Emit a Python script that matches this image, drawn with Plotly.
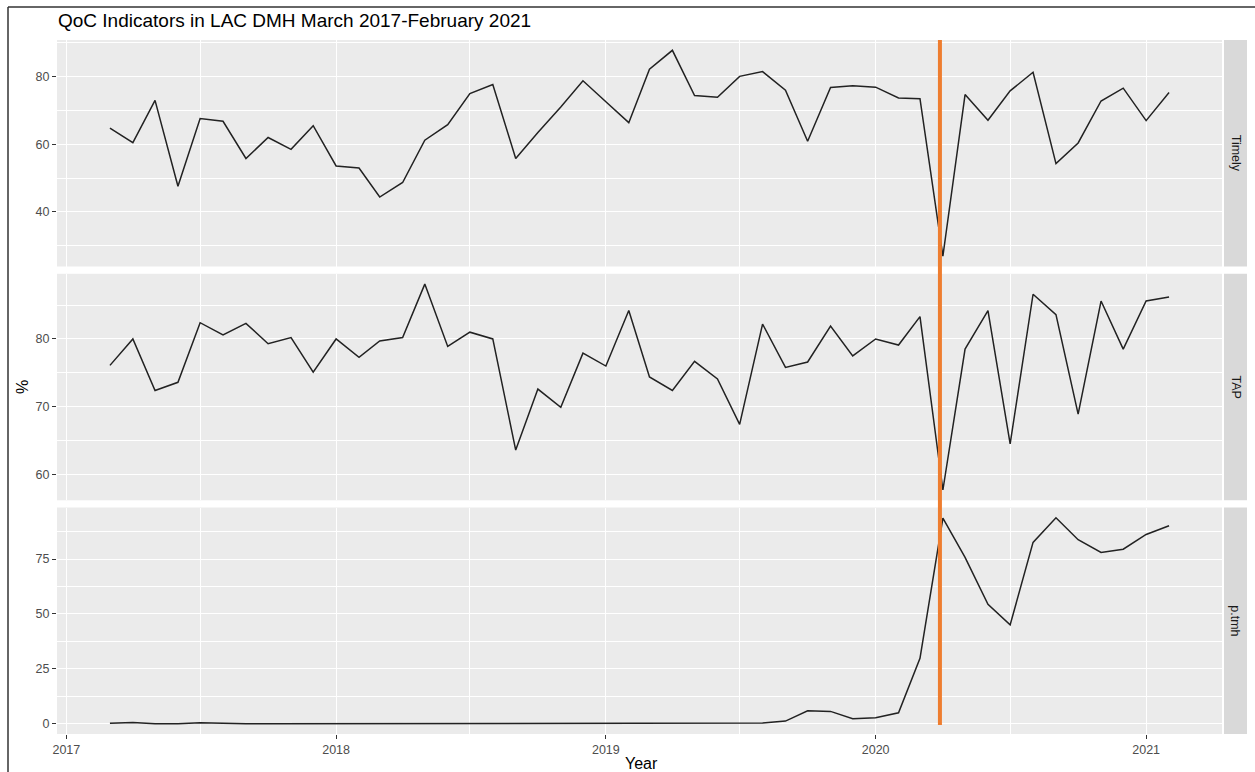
import pandas as pd
import plotly.graph_objects as go

# ---------------- data ----------------
months = pd.date_range("2017-03-01", "2021-02-01", freq="MS")

timely = [64.8, 60.5, 73.0, 47.6, 67.6, 66.8, 55.8, 62.0, 58.5, 65.5,
          53.6, 53.0, 44.4, 48.7, 61.2, 65.8, 75.0, 77.7, 55.8, 63.5, 71.0, 78.8,
          72.6, 66.4, 82.2, 87.8, 74.4, 73.9, 80.1, 81.5, 76.0, 60.9, 76.8, 77.3,
          76.9, 73.7, 73.5, 26.9, 74.7, 67.1, 75.8, 81.3, 54.3, 60.4, 72.8, 76.6,
          67.0, 75.3]

tap = [76.1, 80.0, 72.4, 73.6, 82.4, 80.6, 82.3, 79.3, 80.2, 75.1,
       80.0, 77.3, 79.7, 80.2, 88.1, 78.9, 81.0, 80.0, 63.6, 72.6, 69.9, 77.9,
       76.0, 84.2, 74.4, 72.4, 76.7, 74.1, 67.4, 82.2, 75.8, 76.6, 81.9, 77.5,
       80.0, 79.1, 83.3, 57.7, 78.5, 84.2, 64.5, 86.6, 83.6, 68.9, 85.6, 78.5,
       85.6, 86.2]

ptmh = [0.2, 0.6, 0.0, 0.0, 0.4, 0.1, 0.0, 0.0, 0.0, 0.0,
        0.0, 0.0, 0.0, 0.0, 0.0, 0.0, 0.0, 0.0, 0.0, 0.0, 0.0, 0.0,
        0.0, 0.0, 0.0, 0.0, 0.0, 0.0, 0.0, 0.3, 1.2, 5.9, 5.6, 2.3,
        2.7, 5.0, 29.8, 93.6, 75.8, 54.4, 45.0, 82.6, 93.8, 83.8, 78.0, 79.5,
        86.2, 90.2]

panel_names = ["Timely", "TAP", "p.tmh"]
series = [timely, tap, ptmh]
y_major = [20, 10, 25]
y_minor = [10, 5, 12.5]

event_date = "2020-03-28"
title_text = "QoC Indicators in LAC DMH March 2017-February 2021"
x_title = "Year"
y_title = "%"

# ---------------- layout helpers ----------------
W, H = 1255, 772
FONT = "Liberation Sans, Arial, Helvetica, sans-serif"


def fx(p):
    return p / W


def fy(p):
    return 1 - p / H


x_dom = [fx(57), fx(1222)]
panels_px = [(40, 266.5), (273.8, 500.3), (507.5, 734)]

t0, t1 = months[0], months[-1]
span = t1 - t0
x_range = [t0 - 0.05 * span, t1 + 0.05 * span]

fig = go.Figure()

shapes = []
annotations = []

for i, (name, vals) in enumerate(zip(panel_names, series)):
    k = "" if i == 0 else str(i + 1)
    fig.add_trace(go.Scatter(
        x=months, y=vals, mode="lines",
        line=dict(color="#222222", width=1.5),
        xaxis="x" + k, yaxis="y" + k, showlegend=False,
        hoverinfo="x+y",
    ))
    lo, hi = min(vals), max(vals)
    pad = 0.05 * (hi - lo)
    top, bot = panels_px[i]
    is_bottom = i == len(series) - 1
    fig.update_layout(**{
        "xaxis" + k: dict(
            domain=x_dom, range=x_range, type="date",
            anchor="y" + k, matches=None if i == 0 else "x",
            tick0="2017-01-01", dtick="M12", tickformat="%Y",
            showgrid=True, gridcolor="white", gridwidth=1.1,
            minor=dict(dtick="M6", tick0="2017-01-01", showgrid=True,
                       gridcolor="white", gridwidth=0.55),
            showticklabels=is_bottom,
            ticks="outside" if is_bottom else "", ticklen=4, tickwidth=1.1,
            tickcolor="#333333",
            tickfont=dict(family=FONT, size=12.5, color="#4D4D4D"),
            showline=False, zeroline=False, fixedrange=True,
        ),
        "yaxis" + k: dict(
            domain=[fy(bot), fy(top)], anchor="x" + k,
            range=[lo - pad, hi + pad],
            tick0=0, dtick=y_major[i],
            showgrid=True, gridcolor="white", gridwidth=1.1,
            minor=dict(tick0=0, dtick=y_minor[i], showgrid=True,
                       gridcolor="white", gridwidth=0.55),
            ticks="outside", ticklen=4, tickwidth=1.1, tickcolor="#333333",
            tickfont=dict(family=FONT, size=12.5, color="#4D4D4D"),
            showline=False, zeroline=False, fixedrange=True,
        ),
    })
    # strip on the right
    shapes.append(dict(type="rect", xref="paper", yref="paper",
                       x0=fx(1224), x1=fx(1247), y0=fy(bot), y1=fy(top),
                       fillcolor="#D9D9D9", line=dict(width=0), layer="below"))
    annotations.append(dict(
        text=name, xref="paper", yref="paper",
        x=fx(1235.5), y=fy((top + bot) / 2), showarrow=False,
        textangle=90, font=dict(family=FONT, size=12.5, color="#1A1A1A"),
        xanchor="center", yanchor="middle"))

# orange event line spanning all panels
shapes.append(dict(type="line", xref="x", yref="paper",
                   x0=event_date, x1=event_date, y0=fy(725), y1=fy(40),
                   line=dict(color="#EE7D2F", width=4), layer="above"))

# screenshot border (top + left)
shapes.append(dict(type="line", xref="paper", yref="paper",
                   x0=fx(8), x1=1.0, y0=fy(7), y1=fy(7),
                   line=dict(color="#333333", width=1.5)))
shapes.append(dict(type="line", xref="paper", yref="paper",
                   x0=fx(8), x1=fx(8), y0=fy(7), y1=0.0,
                   line=dict(color="#333333", width=1.5)))

annotations += [
    dict(text=title_text, xref="paper", yref="paper", x=fx(56), y=fy(21),
         xanchor="left", yanchor="middle", showarrow=False,
         font=dict(family=FONT, size=19, color="#000000")),
    dict(text=y_title, xref="paper", yref="paper", x=fx(22), y=fy(387),
         xanchor="center", yanchor="middle", showarrow=False, textangle=-90,
         font=dict(family=FONT, size=16, color="#000000")),
    dict(text=x_title, xref="paper", yref="paper", x=fx(641), y=fy(763),
         xanchor="center", yanchor="middle", showarrow=False,
         font=dict(family=FONT, size=16, color="#000000")),
]

fig.update_layout(
    width=W, height=H,
    margin=dict(l=0, r=0, t=0, b=0, autoexpand=False),
    paper_bgcolor="white", plot_bgcolor="#EBEBEB",
    shapes=shapes, annotations=annotations,
    showlegend=False,
    font=dict(family=FONT),
)

fig.write_html(
    "out.html",
    config={"displayModeBar": False},
    post_script="document.body.style.margin='0';document.body.style.overflow='hidden';",
)
